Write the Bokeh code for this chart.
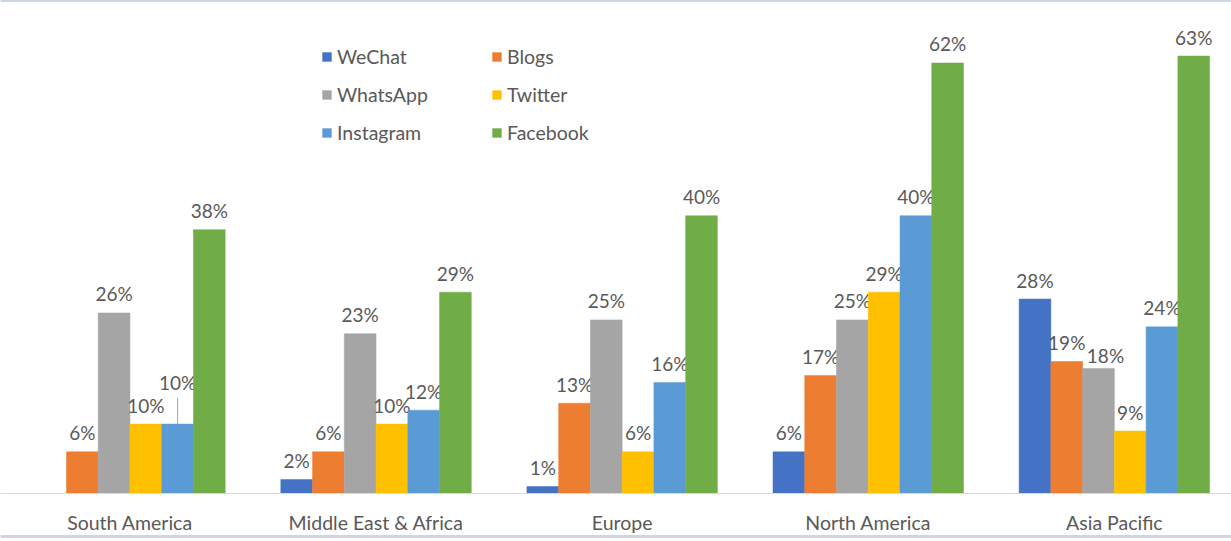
from bokeh.plotting import figure
from bokeh.models import ColumnDataSource, Range1d, Legend, LegendItem, FixedTicker, LinearAxis
from bokeh.core.properties import value
from bokeh.embed import file_html
from bokeh.resources import INLINE

# ---------------- data ----------------
regions = ["South America", "Middle East & Africa", "Europe", "North America", "Asia Pacific"]
series = ["WeChat", "Blogs", "WhatsApp", "Twitter", "Instagram", "Facebook"]
wechat = [None, 2, 1, 6, 28]
blogs = [6, 6, 13, 17, 19]
whatsapp = [26, 23, 25, 25, 18]
twitter = [10, 10, 6, 29, 9]
instagram = [10, 12, 16, 40, 24]
facebook = [38, 29, 40, 62, 63]
values = [wechat, blogs, whatsapp, twitter, instagram, facebook]

# ---------------- style ----------------
colors = ["#4472C4", "#ED7D31", "#A5A5A5", "#FFC000", "#5B9BD5", "#70AD47"]
FONT = "Lato"
TXT = "#595959"
FRAME_COL = "#cdd6e6"
BAR_W = 0.129
# label nudges in screen pixels (dx, dy) to mimic the reference's placement
label_nudge = {("South America", "Instagram"): (0, -23),
               ("Asia Pacific", "WhatsApp"): (7, 6)}
leaders = [("South America", "Instagram")]

p = figure(width=1231, height=541, output_backend="svg", toolbar_location=None,
           x_range=Range1d(-0.026, 4.976), y_range=Range1d(0, 71.0),
           min_border_left=0, min_border_right=0, min_border_top=0, min_border_bottom=48)
p.outline_line_color = None
p.background_fill_color = "white"
p.border_fill_color = "white"
p.xgrid.visible = False
p.ygrid.visible = False
p.yaxis.visible = False

ax = p.xaxis[0]
ax.ticker = FixedTicker(ticks=[i + 0.5 for i in range(len(regions))])
ax.major_label_overrides = {i + 0.5: r for i, r in enumerate(regions)}
ax.major_tick_line_color = None
ax.minor_tick_line_color = None
ax.major_tick_out = 0
ax.major_tick_in = 0
ax.axis_line_color = "#d9d9d9"
ax.axis_line_width = 1
ax.major_label_standoff = 17
ax.major_label_text_font = FONT
ax.major_label_text_font_size = "19.5px"
ax.major_label_text_color = TXT

# light chart-area frame lines (top and bottom), drawn as bare axis lines
for side in ("above", "below"):
    fa = LinearAxis(ticker=FixedTicker(ticks=[]), axis_line_color=FRAME_COL, axis_line_width=3,
                    major_tick_line_color=None, minor_tick_line_color=None,
                    major_tick_out=0, major_tick_in=0, minor_tick_out=0, major_label_standoff=0,
                    major_label_text_font_size="0px")
    p.add_layout(fa, side)

items = []
for j, (name, vals, col) in enumerate(zip(series, values, colors)):
    xs, vs, labs, dxs, dys = [], [], [], [], []
    for i, (reg, v) in enumerate(zip(regions, vals)):
        if v is None:
            continue
        xs.append(i + 0.5 + (j - 2.5) * BAR_W)
        vs.append(v)
        labs.append(f"{v}%")
        dx, dy = label_nudge.get((reg, name), (0, 0))
        dxs.append(dx)
        dys.append(-19 + dy)
    src = ColumnDataSource(dict(x=xs, v=vs, label=labs, dx=dxs, dy=dys))
    r = p.vbar(x="x", top="v", width=BAR_W, source=src, fill_color=col,
               line_color=col, line_width=0.5)
    p.text(x="x", y="v", text="label", source=src, x_offset="dx", y_offset="dy",
           text_align="center", text_baseline="alphabetic",
           text_font=value(FONT), text_font_size="19px", text_color=TXT)
    items.append(LegendItem(label=name, renderers=[r]))

    for reg, sname in leaders:
        if sname == name:
            i = regions.index(reg)
            p.ray(x=[i + 0.5 + (j - 2.5) * BAR_W], y=[vals[i]], length=26,
                  length_units="screen", angle=90, angle_units="deg",
                  line_color="#a6a6a6", line_width=1)

legend = Legend(items=items, location=(321, 349), orientation="horizontal", ncols=2,
                glyph_width=11, glyph_height=11, label_standoff=5,
                label_width=139, label_height=22, spacing=15, padding=0, margin=0,
                border_line_color=None, background_fill_alpha=0,
                label_text_font=FONT, label_text_font_size="19.5px", label_text_color=TXT)
p.add_layout(legend)

open("out.html", "w").write(file_html(p, INLINE))
